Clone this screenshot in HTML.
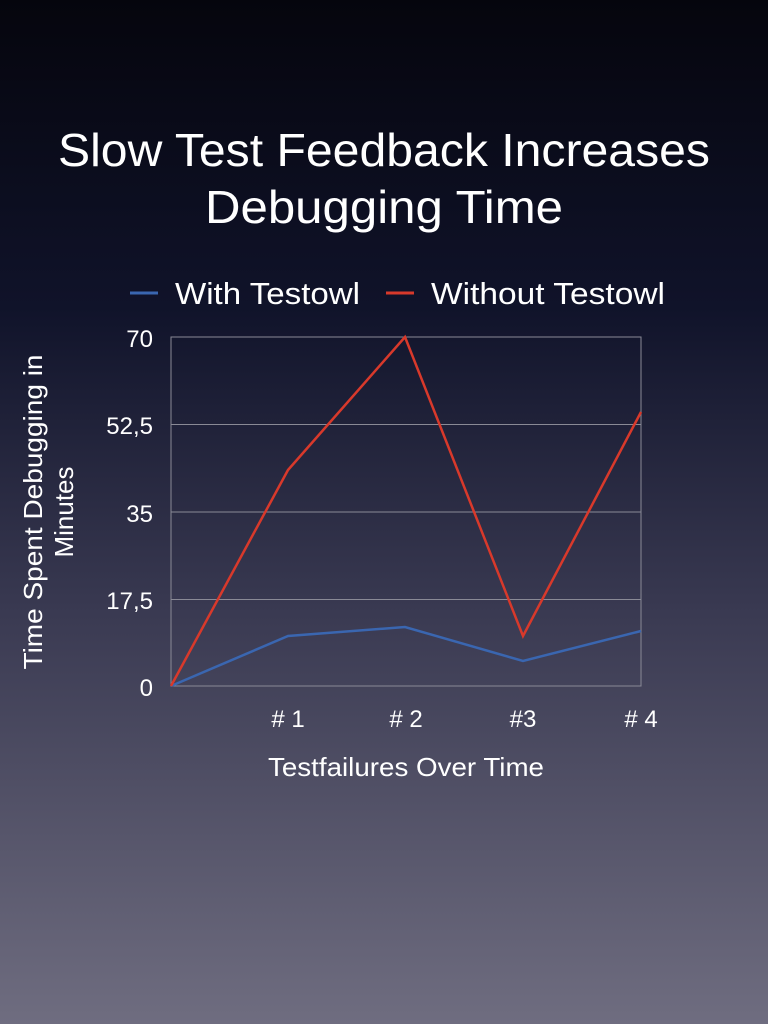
<!DOCTYPE html>
<html><head><meta charset="utf-8"><style>
html,body{margin:0;padding:0;}
body{width:768px;height:1024px;overflow:hidden;background:linear-gradient(to bottom,#05050d 0%,#10132a 30%,#3a3a52 60%,#6f6d80 100%);font-family:"Liberation Sans",sans-serif;color:#fff;}
</style></head><body>
<svg width="768" height="1024" xmlns="http://www.w3.org/2000/svg" style="position:absolute;left:0;top:0">
<g font-family="Liberation Sans, sans-serif" fill="#fff">
<text x="384" y="166" font-size="46" text-anchor="middle" textLength="652" lengthAdjust="spacingAndGlyphs">Slow Test Feedback Increases</text>
<text x="384" y="223" font-size="46" text-anchor="middle" textLength="358" lengthAdjust="spacingAndGlyphs">Debugging Time</text>
<line x1="130" y1="293" x2="158" y2="293" stroke="#3a66b0" stroke-width="3"/>
<text x="175" y="304" font-size="31" textLength="185" lengthAdjust="spacingAndGlyphs">With Testowl</text>
<line x1="386" y1="293" x2="414" y2="293" stroke="#d8392b" stroke-width="3"/>
<text x="431" y="304" font-size="31" textLength="234" lengthAdjust="spacingAndGlyphs">Without Testowl</text>
<rect x="171" y="337" width="470" height="349" fill="none" stroke="#8a8a96" stroke-width="1"/>
<g stroke="#8a8a96" stroke-width="1">
<line x1="171" y1="424.5" x2="641" y2="424.5"/>
<line x1="171" y1="512" x2="641" y2="512"/>
<line x1="171" y1="599.5" x2="641" y2="599.5"/>
</g>
<g font-size="24" text-anchor="end">
<text x="153" y="347">70</text>
<text x="153" y="434">52,5</text>
<text x="153" y="522">35</text>
<text x="153" y="609">17,5</text>
<text x="153" y="696">0</text>
</g>
<g font-size="24" text-anchor="middle">
<text x="288" y="727"># 1</text>
<text x="406" y="727"># 2</text>
<text x="523" y="727">#3</text>
<text x="641" y="727"># 4</text>
</g>
<text x="406" y="776" font-size="26" text-anchor="middle" textLength="276" lengthAdjust="spacingAndGlyphs">Testfailures Over Time</text>
<text transform="translate(42,512) rotate(-90)" font-size="26" text-anchor="middle" textLength="315" lengthAdjust="spacingAndGlyphs">Time Spent Debugging in</text>
<text transform="translate(73,512) rotate(-90)" font-size="26" text-anchor="middle">Minutes</text>
<polyline points="171,686 288,636 405,627 523,661 641,631" fill="none" stroke="#3a66b0" stroke-width="2.5"/>
<polyline points="171,686 288,470 405,337 523,636 641,412" fill="none" stroke="#d8392b" stroke-width="2.5"/>
</g>
</svg>
</body></html>
